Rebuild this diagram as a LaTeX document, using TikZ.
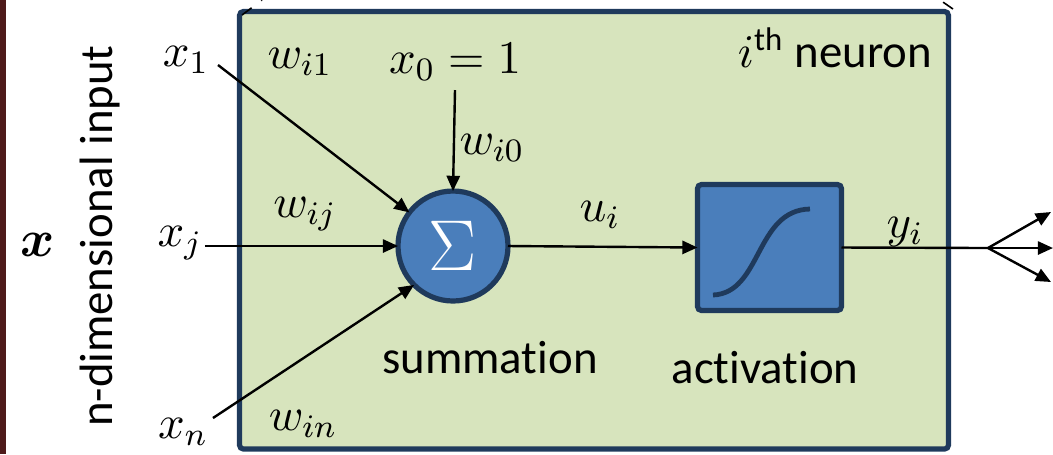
\RequirePackage{fix-cm}
\documentclass[tikz,border=0pt]{standalone}
\usepackage{bm}
\usepackage{fontspec}
\setmainfont{Carlito}[Ligatures=NoCommon]
\usetikzlibrary{arrows.meta}
\definecolor{boxgreen}{HTML}{D7E4BD}
\definecolor{navy}{HTML}{1F3A5C}
\definecolor{nblue}{HTML}{4A7EBB}
\definecolor{stripred}{HTML}{4E1A1A}
\begin{document}
\begin{tikzpicture}[x=0.25pt,y=-0.25pt,
  font=\fontsize{11.7}{14}\selectfont,
  arr/.style={-{Triangle[length=3.8pt,width=3.3pt]}, line width=0.6pt},
  ln/.style={line width=0.6pt},
  lbl/.style={inner sep=0pt},
  unit/.style={draw=navy, fill=nblue, line width=1.3pt, inner sep=0pt, outer sep=0pt}]
\useasboundingbox (0,0) rectangle (1053,454);
\fill[stripred] (0,0) rectangle (6,454);
% neuron box
\node[draw=navy, fill=boxgreen, line width=1.3pt, inner sep=0pt, outer sep=0pt,
  minimum width=177.25pt, minimum height=109.4pt, rounded corners=1pt] (neuron) at (594,230.25) {};
\draw[dashed, line width=0.4pt] (242,15) -- (262,0);
\draw[dashed, line width=0.4pt] (953,9) -- (940,0);
% summation and activation
\node[unit, circle, minimum size=27.5pt] (sum) at (453,246)
  {\color{white}\fontsize{18}{21}\selectfont$\Sigma$};
\node[unit, rectangle, rounded corners=1pt, minimum width=36pt, minimum height=31.5pt] (act) at (769.5,247.5) {};
\draw[navy, line width=1.2pt, line cap=butt] (713,295) .. controls (762,293) and (755,210) .. (810,209);
% labels
\node[lbl] (x1) at (186,60) {$x_1$};
\node[lbl] (xj) at (180,243) {$x_j$};
\node[lbl] (xn) at (183,432) {$x_n$};
\node[lbl] (x0) at (455,62) {$x_0=1$};
\node[lbl] (wi1) at (300,62) {$w_{i1}$};
\node[lbl] (wi0) at (492,148) {$w_{i0}$};
\node[lbl] (wij) at (305,214) {$w_{ij}$};
\node[lbl] (win) at (303,424) {$w_{in}$};
\node[lbl] (ui) at (600,215) {$u_i$};
\node[lbl] (yi) at (905,232) {$y_i$};
\node[lbl] (ith) at (835,48) {$i$\textsuperscript{th} neuron};
\node[lbl] (summ) at (490,358) {summation};
\node[lbl] (actl) at (765,368) {activation};
\node[lbl, rotate=90] (ndim) at (100,236) {n-dimensional input};
\node[lbl] (bx) at (38,245) {\fontsize{13}{15}\selectfont$\bm{x}$};
% connectors
\coordinate (a1) at (218,65);
\coordinate (aj) at (205,246);
\coordinate (an) at (213,418);
\coordinate (a0) at (455,90);
\coordinate (o) at (988,248);
\coordinate (o1) at (1051,212);
\coordinate (o2) at (1053,248);
\coordinate (o3) at (1051,282);
\draw[arr] (a1) -- (sum);
\draw[arr] (aj) -- (sum.west);
\draw[arr] (an) -- (sum.225);
\draw[arr] (a0) -- (sum.north);
\draw[arr] (sum.east) -- (act.west);
\draw[ln] (act.east) -- (o);
\draw[arr] (o) -- (o1);
\draw[arr] (o) -- (o2);
\draw[arr] (o) -- (o3);
\end{tikzpicture}
\end{document}
